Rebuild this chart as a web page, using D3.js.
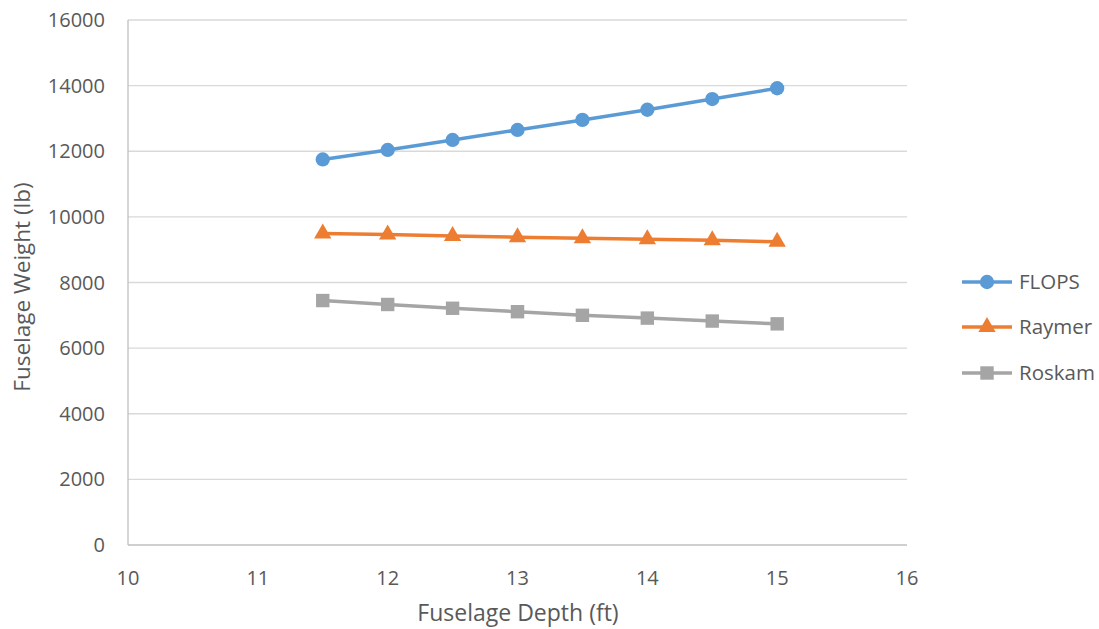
<!DOCTYPE html>
<html><head><meta charset="utf-8">
<script src="https://cdn.jsdelivr.net/npm/d3@7"></script>
<style>body{margin:0;background:#fff}text{font-family:"Open Sans","Noto Sans",sans-serif;fill:#595959}</style>
</head><body><svg id="c" width="1099" height="629"></svg>
<script>
const depths = [11.5, 12, 12.5, 13, 13.5, 14, 14.5, 15];
const flops = [11750, 12040, 12345, 12650, 12955, 13265, 13590, 13920];
const raymer = [9490, 9460, 9420, 9380, 9345, 9315, 9285, 9240];
const roskam = [7450, 7330, 7215, 7110, 7000, 6915, 6825, 6740];
const xTicks = [10, 11, 12, 13, 14, 15, 16];
const yTicks = [0, 2000, 4000, 6000, 8000, 10000, 12000, 14000, 16000];
const seriesNames = ["FLOPS", "Raymer", "Roskam"];
const colors = ["#5B9BD5", "#ED7D31", "#A5A5A5"];
const symbols = [d3.symbolCircle, d3.symbolTriangle, d3.symbolSquare];

const svg = d3.select("#c");
const x = d3.scaleLinear().domain([10, 16]).range([128, 907]);
const y = d3.scaleLinear().domain([0, 16000]).range([545, 20]);

svg.append("g").selectAll("line").data(yTicks.slice(1)).join("line")
  .attr("x1", x(10)).attr("x2", x(16)).attr("y1", d => y(d)).attr("y2", d => y(d))
  .attr("stroke", "#d9d9d9").attr("stroke-width", 1.3);
svg.append("line").attr("x1", x(10)).attr("x2", x(16)).attr("y1", y(0)).attr("y2", y(0)).attr("stroke", "#bfbfbf").attr("stroke-width", 1.3);
svg.append("line").attr("x1", x(10)).attr("x2", x(10)).attr("y1", y(0)).attr("y2", y(16000)).attr("stroke", "#bfbfbf").attr("stroke-width", 1.3);

svg.append("g").selectAll("text").data(yTicks).join("text")
  .attr("x", 105).attr("y", d => y(d)).attr("dy", "0.35em").attr("text-anchor", "end")
  .attr("font-size", 20).text(d => d);
svg.append("g").selectAll("text").data(xTicks).join("text")
  .attr("x", d => x(d)).attr("y", 578).attr("dy", "0.35em").attr("text-anchor", "middle")
  .attr("font-size", 20).text(d => d);

svg.append("text").attr("x", 518).attr("y", 613).attr("dy", "0.35em").attr("text-anchor", "middle")
  .attr("font-size", 23).text("Fuselage Depth (ft)");
svg.append("text").attr("transform", "translate(22,287) rotate(-90)").attr("dy", "0.35em").attr("text-anchor", "middle")
  .attr("font-size", 22.5).text("Fuselage Weight (lb)");

const data = [flops, raymer, roskam];
const line = d3.line().x((d, i) => x(depths[i])).y(d => y(d));
data.forEach((vals, k) => {
  svg.append("path").datum(vals).attr("d", line).attr("fill", "none")
    .attr("stroke", colors[k]).attr("stroke-width", 3.5).attr("stroke-linejoin", "round");
  svg.append("g").selectAll("path").data(vals).join("path")
    .attr("transform", (d, i) => `translate(${x(depths[i])},${y(d)})`)
    .attr("d", d3.symbol().type(symbols[k]).size(k === 0 ? 160 : (k === 1 ? 130 : 180)))
    .attr("fill", colors[k]);
});

const legY = [282, 327, 373];
seriesNames.forEach((n, k) => {
  const g = svg.append("g").attr("transform", `translate(0,${legY[k]})`);
  g.append("line").attr("x1", 962).attr("x2", 1012).attr("stroke", colors[k]).attr("stroke-width", 3.5);
  g.append("path").attr("transform", "translate(987,0)")
    .attr("d", d3.symbol().type(symbols[k]).size(k === 0 ? 160 : (k === 1 ? 130 : 180))).attr("fill", colors[k]);
  g.append("text").attr("x", 1019).attr("dy", "0.35em").attr("font-size", 20.5).text(n);
});
</script></body></html>
